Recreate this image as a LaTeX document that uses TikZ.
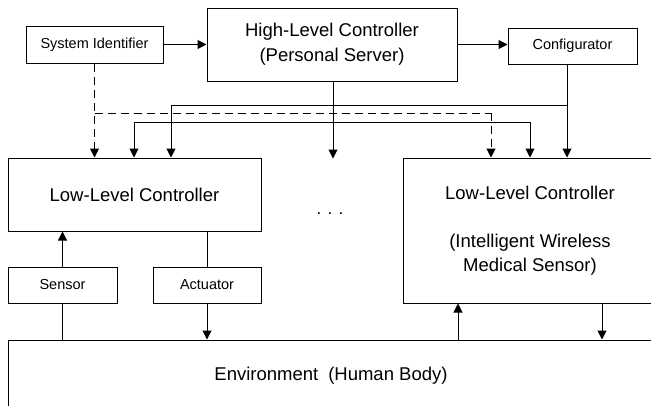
\documentclass[tikz,border=0pt]{standalone}
\usepackage{fontspec}
\setmainfont{Liberation Sans}
\usetikzlibrary{arrows.meta}
\tikzset{
  box/.style={draw, line width=1pt, inner sep=0pt, align=center},
  smallbox/.style={box, font=\fontsize{14.5}{17}\selectfont},
  bigbox/.style={box, font=\fontsize{18.5}{24}\selectfont},
  conn/.style={line width=1pt},
  arr/.style={conn, -{Triangle[length=9pt,width=9pt]}},
  dsh/.style={dash pattern=on 8pt off 5pt},
}
\begin{document}
\begin{tikzpicture}[x=1pt,y=-1pt]
\useasboundingbox (0,0) rectangle (651,405);
\begin{scope}
\clip (0,0) rectangle (651,405);
% boxes
\node[smallbox, minimum width=137pt, minimum height=37pt] (sysid) at (94.5,44.5) {System Identifier};
\node[bigbox, minimum width=250pt, minimum height=73pt, font=\fontsize{18.5}{25}\selectfont] (hlc) at (332,44.5) {High-Level Controller\\(Personal Server)};
\node[smallbox, minimum width=129pt, minimum height=36pt] (conf) at (572.5,46) {Configurator};
\node[bigbox, minimum width=253pt, minimum height=73pt] (llcL) at (134.5,194.5) {Low-Level Controller};
\node[bigbox, minimum width=254pt, minimum height=145pt] (llcR) at (530,230.5) {Low-Level Controller\\[24pt](Intelligent Wireless\\Medical Sensor)};
\node[smallbox, minimum width=109pt, minimum height=36pt] (sensor) at (62.5,285) {Sensor};
\node[smallbox, minimum width=108pt, minimum height=36pt] (act) at (207,285) {Actuator};
\node[box, minimum width=646pt, minimum height=72pt, font=\fontsize{18.5}{24}\selectfont] (env) at (331,376) {Environment\hspace{10pt}(Human Body)};
\node[anchor=base, inner sep=0pt, font=\fontsize{17}{24}\selectfont] (dots) at (330,214) {. . .};
% helper coordinates
\coordinate (dj) at (491,113);
\coordinate (cj) at (567,105);
\coordinate (cl) at (171,105);
\coordinate (hl) at (134,122);
\coordinate (hr) at (530,122);
\coordinate (hj) at (333,122);
\coordinate (rup) at (458,340);
\coordinate (rdn) at (602,303);
% top connectors
\draw[arr] (sysid.east) -- (sysid.east -| hlc.west);
\draw[arr] (hlc.east |- sysid.east) -- (hlc.east |- sysid.east -| conf.west);
% dashed
\draw[arr, dsh] (sysid.south) -- (sysid.south |- llcL.north);
\draw[conn, dsh] (sysid.south |- dj) -- (dj);
\draw[arr, dsh] (dj) -- (dj |- llcR.north);
% configurator
\draw[arr] (conf.south -| cj) -- (cj |- llcR.north);
\draw[conn] (cj) -- (cl);
\draw[arr] (cl) -- (cl |- llcL.north);
% high-level controller
\draw[arr] (hlc.south -| hj) -- ([yshift=-1pt]hj |- llcL.north);
\draw[conn] (hl) -- (hr);
\draw[arr] (hl) -- (hl |- llcL.north);
\draw[arr] (hr) -- (hr |- llcR.north);
% left low-level
\draw[arr] (sensor.north) -- (sensor.north |- llcL.south);
\draw[conn] (sensor.south) -- (sensor.south |- env.north);
\draw[conn] (act.north |- llcL.south) -- (act.north);
\draw[arr] (act.south) -- (act.south |- env.north);
% right low-level
\draw[arr] (rup) -- (rup |- llcR.south);
\draw[arr] (rdn) -- (rdn |- env.north);
\end{scope}
\end{tikzpicture}
\end{document}
